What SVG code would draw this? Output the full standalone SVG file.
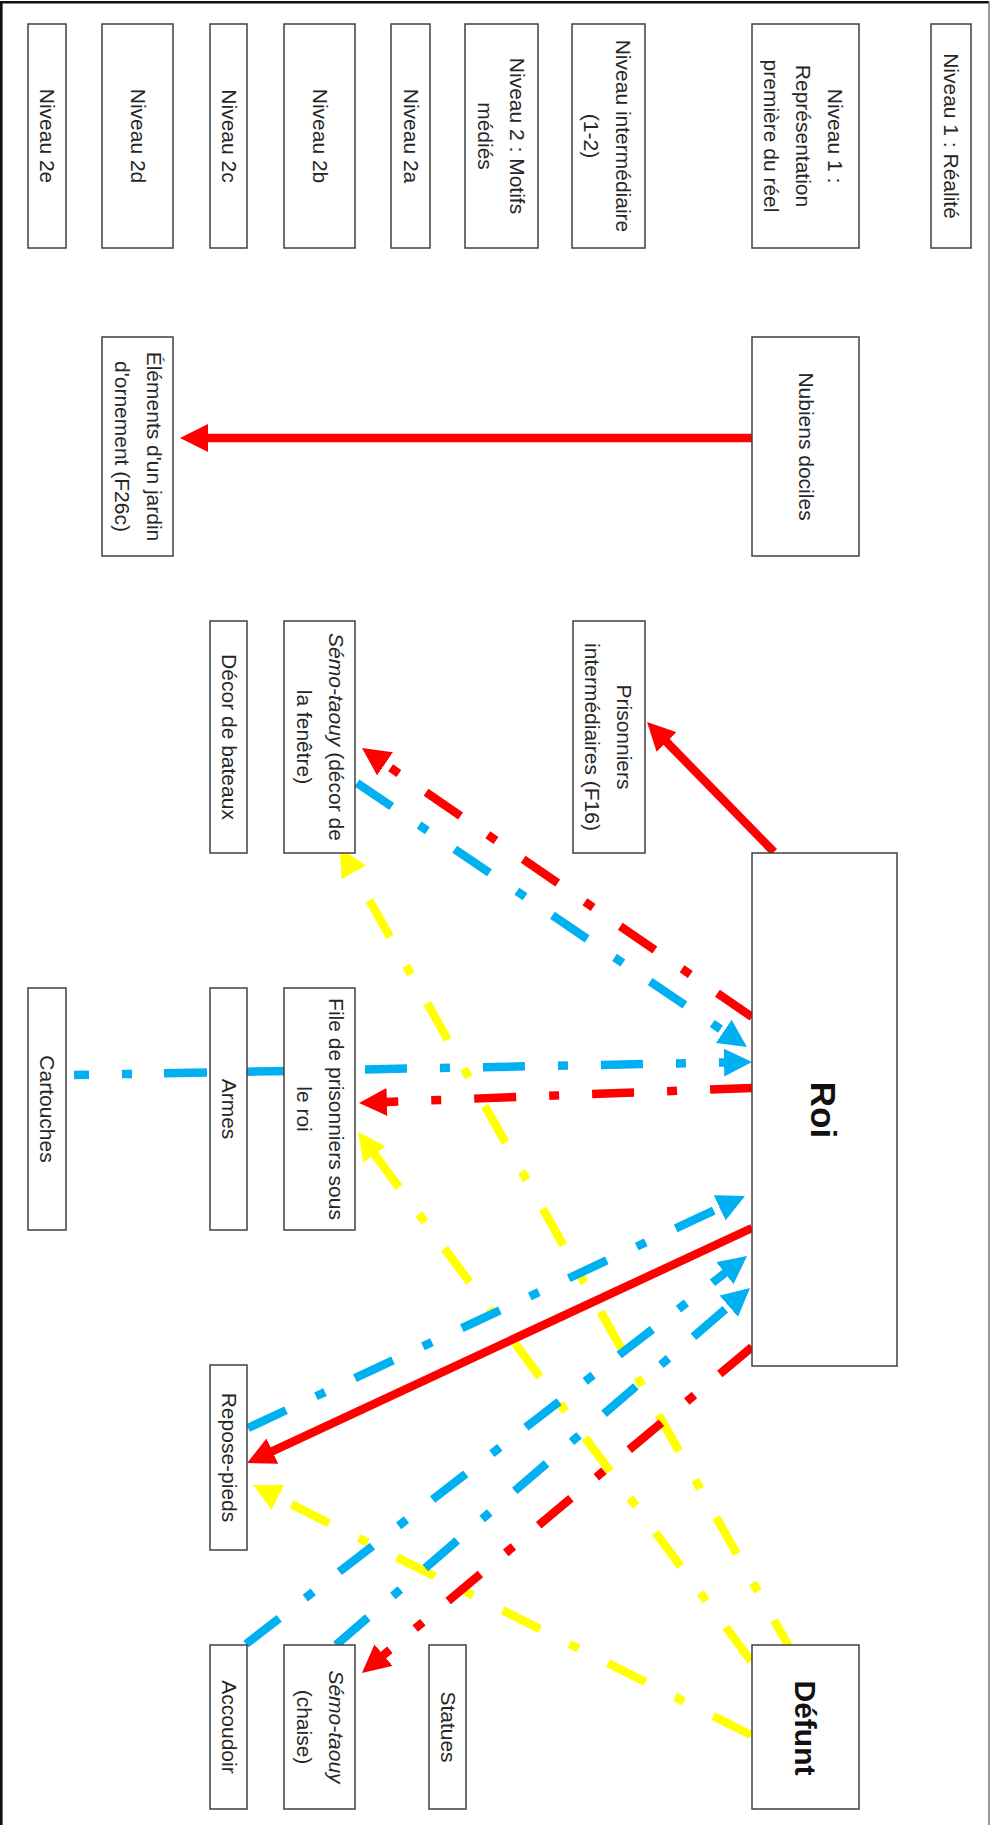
<svg xmlns="http://www.w3.org/2000/svg" width="990" height="1825" viewBox="0 0 990 1825">
<style>
.box{fill:#fff;stroke:#404040;stroke-width:1.5}
.t{font-family:"Liberation Sans",Arial,sans-serif;font-size:21px;fill:#262626;text-anchor:middle}
.tb{font-family:"Liberation Sans",Arial,sans-serif;font-weight:bold;fill:#111;text-anchor:middle}
.c{fill:none;stroke-width:8.5}
.dd{stroke-dasharray:42 33 10 33}
.r{stroke:#FF0000}
.b{stroke:#00B0F0}
.y{stroke:#FFFF00}
</style>
<defs>
<marker id="mr" viewBox="0 0 28 28" refX="1" refY="14" markerWidth="28" markerHeight="28" markerUnits="userSpaceOnUse" orient="auto"><path d="M0,0L28,14L0,28z" fill="#FF0000"/></marker>
<marker id="mb" viewBox="0 0 28 28" refX="1" refY="14" markerWidth="28" markerHeight="28" markerUnits="userSpaceOnUse" orient="auto"><path d="M0,0L28,14L0,28z" fill="#00B0F0"/></marker>
<marker id="my" viewBox="0 0 28 28" refX="1" refY="14" markerWidth="28" markerHeight="28" markerUnits="userSpaceOnUse" orient="auto"><path d="M0,0L28,14L0,28z" fill="#FFFF00"/></marker>
</defs>
<rect x="0" y="0" width="990" height="1825" fill="#fff"/>
<path d="M1.3,1825V2.3H989" fill="none" stroke="#111" stroke-width="2.6"/>
<path d="M989,2V1825" fill="none" stroke="#777" stroke-width="1.5"/>

<g id="connectors">
<path class="c y dd" d="M794.7,1656.9L353.2,871.5" marker-end="url(#my)"/>
<path class="c y dd" d="M751,1661L374.1,1153.7" marker-end="url(#my)"/>
<path class="c y dd" d="M751,1735L277.1,1497.1" marker-end="url(#my)"/>
<path class="c b dd" d="M357,783L724.6,1031.9" marker-end="url(#mb)"/>
<path class="c b" d="M74,1075L210,1072.4" style="stroke-dasharray:15 33 10 32 43 40"/>
<path class="c b dd" d="M247,1071.7L725,1062.5" marker-end="url(#mb)"/>
<path class="c b dd" d="M248,1428L720.5,1207.4" marker-end="url(#mb)"/>
<path class="c b dd" d="M246,1644L725.7,1272.5" marker-end="url(#mb)"/>
<path class="c b dd" d="M336,1645L729.6,1305.6" marker-end="url(#mb)"/>
<path class="c r" d="M752,438L207,438" marker-end="url(#mr)"/>
<path class="c r" d="M774,852L665.9,741.3" marker-end="url(#mr)"/>
<path class="c r" d="M752,1228L271.5,1451.6" marker-end="url(#mr)"/>
<path class="c r dd" d="M752,1017L384.2,763.3" marker-end="url(#mr)"/>
<path class="c r dd" d="M752,1088L386,1102" marker-end="url(#mr)"/>
<path class="c r dd" d="M752,1347L382.7,1655.7" marker-end="url(#mr)"/>
</g>

<g id="niveau-2e"><rect class="box" x="28" y="24" width="38" height="224"/><text class="t" transform="translate(47,136) rotate(90)"><tspan x="0" y="7">Niveau 2e</tspan></text></g>
<g id="niveau-2d"><rect class="box" x="102" y="24" width="71" height="224"/><text class="t" transform="translate(137.5,136) rotate(90)"><tspan x="0" y="7">Niveau 2d</tspan></text></g>
<g id="niveau-2c"><rect class="box" x="210" y="24" width="37" height="224"/><text class="t" transform="translate(228.5,136) rotate(90)"><tspan x="0" y="7">Niveau 2c</tspan></text></g>
<g id="niveau-2b"><rect class="box" x="284" y="24" width="71" height="224"/><text class="t" transform="translate(319.5,136) rotate(90)"><tspan x="0" y="7">Niveau 2b</tspan></text></g>
<g id="niveau-2a"><rect class="box" x="391" y="24" width="39" height="224"/><text class="t" transform="translate(410.5,136) rotate(90)"><tspan x="0" y="7">Niveau 2a</tspan></text></g>
<g id="niveau-2"><rect class="box" x="465" y="24" width="73" height="224"/><text class="t" transform="translate(501,136) rotate(90)"><tspan x="0" y="-9">Niveau 2 : Motifs</tspan><tspan x="0" y="23">médiés</tspan></text></g>
<g id="niveau-intermediaire"><rect class="box" x="572" y="24" width="73" height="224"/><text class="t" transform="translate(607,136) rotate(90)"><tspan x="0" y="-9">Niveau intermédiaire</tspan><tspan x="0" y="23">(1-2)</tspan></text></g>
<g id="niveau-1-representation"><rect class="box" x="752" y="24" width="107" height="224"/><text class="t" transform="translate(803,136) rotate(90)"><tspan x="0" y="-25">Niveau 1 :</tspan><tspan x="0" y="7">Représentation</tspan><tspan x="0" y="39">première du réel</tspan></text></g>
<g id="niveau-1-realite"><rect class="box" x="931" y="24" width="40" height="224"/><text class="t" transform="translate(951,136) rotate(90)"><tspan x="0" y="7">Niveau 1 : Réalité</tspan></text></g>

<g id="nubiens-dociles"><rect class="box" x="752" y="337" width="107" height="219"/><text class="t" transform="translate(805.5,446.5) rotate(90)"><tspan x="0" y="7">Nubiens dociles</tspan></text></g>
<g id="elements-jardin"><rect class="box" x="102" y="337" width="71" height="219"/><text class="t" transform="translate(137.5,446.5) rotate(90)"><tspan x="0" y="-9">Éléments d'un jardin</tspan><tspan x="0" y="23">d'ornement (F26c)</tspan></text></g>

<g id="decor-bateaux"><rect class="box" x="210" y="621" width="37" height="232"/><text class="t" transform="translate(228.5,737) rotate(90)"><tspan x="0" y="7">Décor de bateaux</tspan></text></g>
<g id="semo-taouy-fenetre"><rect class="box" x="284" y="621" width="71" height="232"/><text class="t" transform="translate(319.5,737) rotate(90)"><tspan x="0" y="-9"><tspan font-style="italic">Sémo-taouy</tspan> (décor de</tspan><tspan x="0" y="23">la fenêtre)</tspan></text></g>
<g id="prisonniers-intermediaires"><rect class="box" x="573" y="621" width="72" height="232"/><text class="t" transform="translate(608,737) rotate(90)"><tspan x="0" y="-9">Prisonniers</tspan><tspan x="0" y="23">intermédiaires (F16)</tspan></text></g>

<g id="cartouches"><rect class="box" x="28" y="988" width="38" height="242"/><text class="t" transform="translate(47,1109) rotate(90)"><tspan x="0" y="7">Cartouches</tspan></text></g>
<g id="armes"><rect class="box" x="210" y="988" width="37" height="242"/><text class="t" transform="translate(228.5,1109) rotate(90)"><tspan x="0" y="7">Armes</tspan></text></g>
<g id="file-prisonniers"><rect class="box" x="284" y="988" width="71" height="242"/><text class="t" transform="translate(319.5,1109) rotate(90)"><tspan x="0" y="-9">File de prisonniers sous</tspan><tspan x="0" y="23">le roi</tspan></text></g>

<g id="roi"><rect class="box" x="752" y="853" width="145" height="513"/><text class="tb" font-size="35" transform="translate(823,1110) rotate(90)"><tspan x="0" y="12">Roi</tspan></text></g>

<g id="repose-pieds"><rect class="box" x="210" y="1365" width="37" height="185"/><text class="t" transform="translate(228.5,1457.5) rotate(90)"><tspan x="0" y="7">Repose-pieds</tspan></text></g>

<g id="accoudoir"><rect class="box" x="210" y="1645" width="37" height="164"/><text class="t" transform="translate(228.5,1727) rotate(90)"><tspan x="0" y="7">Accoudoir</tspan></text></g>
<g id="semo-taouy-chaise"><rect class="box" x="284" y="1645" width="71" height="164"/><text class="t" transform="translate(319.5,1727) rotate(90)"><tspan x="0" y="-9" font-style="italic">Sémo-taouy</tspan><tspan x="0" y="23">(chaise)</tspan></text></g>
<g id="statues"><rect class="box" x="429" y="1645" width="37" height="164"/><text class="t" transform="translate(447.5,1727) rotate(90)"><tspan x="0" y="7">Statues</tspan></text></g>
<g id="defunt"><rect class="box" x="752" y="1645" width="107" height="164"/><text class="tb" font-size="30" transform="translate(805.5,1728) rotate(90)"><tspan x="0" y="11">Défunt</tspan></text></g>
</svg>
